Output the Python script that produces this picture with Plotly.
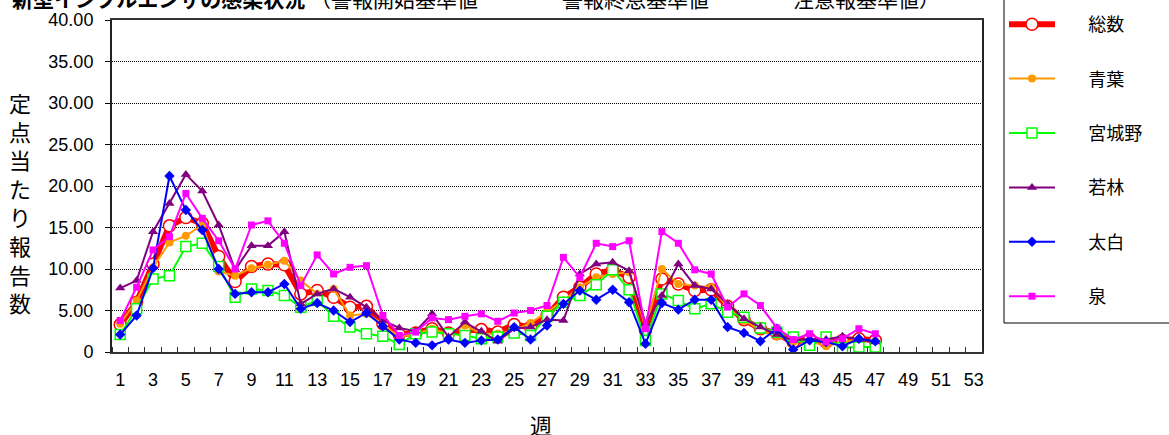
import plotly.graph_objects as go

weeks = list(range(1, 48))

total = [3.3, 6.0, 10.6, 15.2, 16.2, 15.5, 11.5, 8.5, 10.3, 10.6, 10.5, 7.0, 7.4, 6.6, 5.4, 5.5,
         3.4, 2.1, 2.3, 2.8, 2.3, 2.6, 2.7, 2.4, 3.3, 3.0, 4.4, 6.6, 7.8, 9.4, 9.9, 9.0,
         2.6, 8.8, 8.2, 7.4, 7.5, 5.5, 3.9, 2.8, 2.2, 1.2, 1.6, 1.2, 1.4, 1.6, 1.4]
aoba = [3.4, 6.2, 10.2, 13.2, 14.0, 15.3, 9.7, 9.2, 10.1, 10.5, 11.0, 8.6, 7.0, 7.6, 4.4, 4.6,
        3.4, 1.8, 2.2, 2.8, 2.2, 3.2, 2.2, 2.2, 2.6, 3.5, 4.8, 6.2, 7.8, 9.0, 9.4, 9.6,
        3.0, 10.0, 8.2, 8.0, 7.8, 5.4, 3.8, 2.6, 1.9, 1.2, 1.3, 0.7, 1.2, 1.5, 1.3]
miyagino = [2.1, 5.2, 8.8, 9.2, 12.7, 13.1, 10.3, 6.6, 7.6, 7.4, 6.8, 5.4, 6.2, 4.3, 3.0, 2.2,
            1.9, 0.9, 2.2, 2.4, 2.2, 2.0, 1.6, 1.8, 2.3, 2.0, 4.3, 6.0, 6.8, 8.1, 9.9, 7.5,
            1.4, 7.0, 6.2, 5.2, 5.8, 4.8, 4.2, 2.9, 2.4, 1.8, 0.8, 1.8, 0.5, 0.6, 0.6]
wakabayashi = [7.7, 8.6, 14.5, 17.9, 21.4, 19.4, 15.3, 9.9, 12.8, 12.8, 14.5, 5.8, 7.0, 7.6, 6.6, 5.4,
               3.8, 2.9, 2.5, 4.6, 1.8, 3.6, 2.5, 1.3, 2.8, 3.0, 3.9, 3.8, 9.4, 10.6, 10.8, 9.8,
               3.4, 6.8, 10.6, 8.0, 7.6, 5.8, 4.0, 3.0, 2.1, 1.4, 1.6, 1.5, 1.9, 1.5, 1.2]
taihaku = [2.1, 4.4, 10.1, 21.2, 17.1, 14.7, 10.0, 7.0, 7.2, 7.2, 8.2, 5.2, 5.9, 5.0, 3.6, 4.7,
           3.1, 1.5, 1.1, 0.8, 1.5, 1.1, 1.4, 1.5, 3.0, 1.5, 3.2, 5.8, 7.4, 6.3, 7.5, 6.0,
           1.0, 5.9, 5.1, 6.3, 6.3, 3.0, 2.3, 1.3, 2.8, 0.3, 1.4, 1.2, 0.7, 1.6, 1.3]
izumi = [3.8, 7.8, 12.3, 13.9, 19.1, 16.1, 13.4, 10.0, 15.3, 15.8, 13.1, 8.0, 11.7, 9.4, 10.2, 10.4,
         4.4, 2.0, 2.4, 4.1, 3.9, 4.3, 4.6, 3.7, 4.7, 5.0, 5.6, 11.4, 9.0, 13.1, 12.7, 13.4,
         2.8, 14.5, 13.1, 9.9, 9.4, 5.4, 7.0, 5.6, 2.9, 1.5, 2.2, 1.2, 1.6, 2.8, 2.2]

x_tick_vals = list(range(1, 54, 2))
x_tick_text = [str(v) for v in x_tick_vals]
y_tick_vals = [0, 5, 10, 15, 20, 25, 30, 35, 40]
y_tick_text = ["0", "5.00", "10.00", "15.00", "20.00", "25.00", "30.00", "35.00", "40.00"]

series = [
    ("総数", total, dict(color="#FF0000", width=6),
     dict(symbol="circle", size=12, color="white", line=dict(color="#FF0000", width=1.5))),
    ("青葉", aoba, dict(color="#FF9900", width=2),
     dict(symbol="circle", size=8, color="#FF9900", line=dict(width=0))),
    ("宮城野", miyagino, dict(color="#00FF00", width=2),
     dict(symbol="square", size=10, color="white", line=dict(color="#00FF00", width=1.5))),
    ("若林", wakabayashi, dict(color="#800080", width=2),
     dict(symbol="triangle-up", size=9, color="#800080", line=dict(width=0))),
    ("太白", taihaku, dict(color="#0000FF", width=2),
     dict(symbol="diamond", size=8, color="#0000FF", line=dict(width=0))),
    ("泉", izumi, dict(color="#FF00FF", width=2),
     dict(symbol="square", size=7, color="#FF00FF", line=dict(width=0))),
]

fig = go.Figure()
for i, (name, vals, ln, mk) in enumerate(series):
    fig.add_trace(go.Scatter(
        x=weeks, y=vals, mode="lines+markers",
        name="\u00a0" * 7 + name,
        line=ln, marker=mk, legendgroup="g%d" % i,
    ))

font_main = "Liberation Sans, Noto Sans CJK JP, sans-serif"
font_cjk = "Noto Sans CJK JP, sans-serif"

PW, PH = 870, 332  # plot area size in px

fig.update_layout(
    width=1169, height=435,
    margin=dict(l=112, r=187, t=20, b=83, autoexpand=False),
    paper_bgcolor="white", plot_bgcolor="white",
    showlegend=True,
    legend=dict(
        x=(1004 - 112) / PW, xanchor="left", y=(352 - 315) / PH, yanchor="bottom",
        bgcolor="rgba(0,0,0,0)", borderwidth=0,
        font=dict(family=font_cjk, size=18, color="black"),
        tracegroupgap=28, itemwidth=46, maxheight=600,
    ),
    xaxis=dict(
        range=[0.5, 53.5], tickmode="array", tickvals=x_tick_vals, ticktext=x_tick_text,
        ticks="", showgrid=False, zeroline=False, ticklabelstandoff=10,
        showline=True, linecolor="#333333", linewidth=2, mirror=True,
        tickfont=dict(family="Liberation Sans Narrow, Liberation Sans, sans-serif", size=18, color="black"),
        minor=dict(tickmode="array", tickvals=[v + 0.5 for v in range(0, 54)],
                   ticks="inside", ticklen=5, tickcolor="#333333", tickwidth=1, showgrid=False),
    ),
    yaxis=dict(
        range=[0, 40], tickmode="array", tickvals=y_tick_vals, ticktext=y_tick_text,
        ticks="outside", ticklen=5, tickcolor="black", ticklabelstandoff=8,
        showgrid=True, gridcolor="black", gridwidth=1, griddash="1px,1px",
        zeroline=False, showline=True, linecolor="#222222", linewidth=2, mirror=True,
        tickfont=dict(family=font_main, size=18, color="black"),
    ),
    shapes=[dict(
        type="rect", xref="paper", yref="paper",
        x0=(1004 - 112) / PW, x1=(1190 - 112) / PW,
        y0=(352 - 323) / PH, y1=(352 + 10) / PH,
        line=dict(color="black", width=1), fillcolor="white", layer="below",
    )],
)

fig.add_annotation(
    xref="paper", yref="paper", x=-102 / PW, y=1 + 22 / PH,
    xanchor="left", yanchor="middle", showarrow=False,
    text="<b>新型インフルエンザの感染状況</b> （警報開始基準値　　　　警報終息基準値　　　　注意報基準値）",
    font=dict(family=font_cjk, size=21, color="black"),
)
fig.add_annotation(
    xref="paper", yref="paper", x=-92 / PW, y=(352 - 202) / PH,
    xanchor="center", yanchor="middle", showarrow=False,
    text="<br>".join(list("定点当たり報告数")),
    font=dict(family=font_cjk, size=22, color="black"),
)
fig.add_annotation(
    xref="paper", yref="paper", x=(541 - 112) / PW, y=-(424 - 352) / PH,
    xanchor="center", yanchor="middle", showarrow=False,
    text="週",
    font=dict(family=font_cjk, size=22, color="black"),
)

fig.write_html("out.html", config={"displayModeBar": False},
               post_script="document.body.style.margin='0';")
